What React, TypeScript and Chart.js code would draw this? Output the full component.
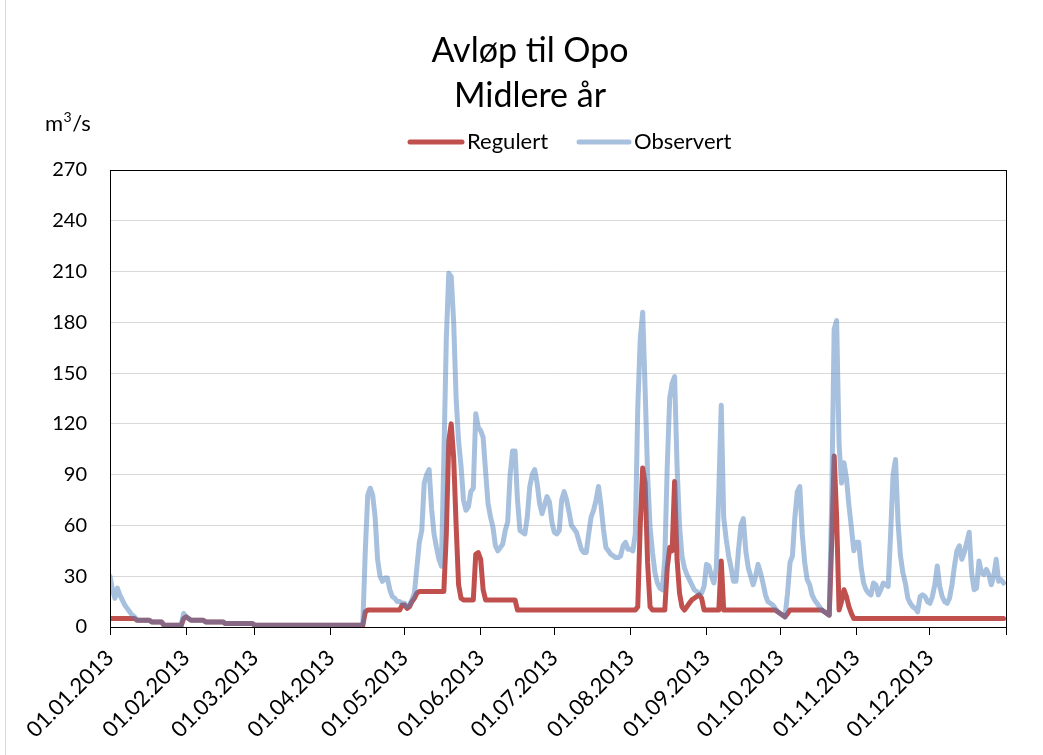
import React, { useEffect, useRef } from 'react';
import { Chart, registerables } from 'chart.js';

Chart.register(...registerables);

const FONT = 'Lato, "Open Sans", "DejaVu Sans", sans-serif';

const titleLines = ['Avløp til Opo', 'Midlere år'];
const seriesNames = ['Regulert', 'Observert'];
const unitText = ['m', '3', '/s'];

const yTickValues = [0, 30, 60, 90, 120, 150, 180, 210, 240, 270];
const monthStartDays = [0, 31, 59, 90, 120, 151, 181, 212, 243, 273, 304, 334, 365];
const monthLabels = [
  '01.01.2013', '01.02.2013', '01.03.2013', '01.04.2013', '01.05.2013', '01.06.2013',
  '01.07.2013', '01.08.2013', '01.09.2013', '01.10.2013', '01.11.2013', '01.12.2013', '',
];

// Regulert (daily values, m3/s)
const regJan = [5,5,5,5,5,5,5,5,5,5,5,4,4,4,4,4,4,3,3,3,3,3,1,1,1,1,1,1,1,1,5];
const regFeb = [6,5,4,4,4,4,4,4,3,3,3,3,3,3,3,3,2,2,2,2,2,2,2,2,2,2,2,2];
const regMar = [1,1,1,1,1,1,1,1,1,1,1,1,1,1,1,1,1,1,1,1,1,1,1,1,1,1,1,1,1,1,1];
const regApr = [1,1,1,1,1,1,1,1,1,1,1,1,1,1,9,10,10,10,10,10,10,10,10,10,10,10,10,10,10,13];
const regMay = [13,11,12,15,17,20,21,21,21,21,21,21,21,21,21,21,21,55,110,120,100,60,25,17,16,16,16,16,16,43,44];
const regJun = [40,22,16,16,16,16,16,16,16,16,16,16,16,16,16,10,10,10,10,10,10,10,10,10,10,10,10,10,10,10];
const regJul = [10,10,10,10,10,10,10,10,10,10,10,10,10,10,10,10,10,10,10,10,10,10,10,10,10,10,10,10,10,10,10];
const regAug = [10,10,10,12,60,94,85,38,12,10,10,10,10,10,10,35,47,45,86,40,20,12,10,12,14,16,17,18,19,17,10];
const regSep = [10,10,10,10,10,10,39,10,10,10,10,10,10,10,10,10,10,10,10,10,10,10,10,10,10,10,10,10,10,9];
const regOct = [8,7,6,8,10,10,10,10,10,10,10,10,10,10,10,10,10,10,9,8,7,50,101,65,10,15,22,18,12,8,5];
const regNov = [5,5,5,5,5,5,5,5,5,5,5,5,5,5,5,5,5,5,5,5,5,5,5,5,5,5,5,5,5,5];
const regDec = [5,5,5,5,5,5,5,5,5,5,5,5,5,5,5,5,5,5,5,5,5,5,5,5,5,5,5,5,5,5,5];

// Observert (daily values, m3/s)
const obsJan = [30,22,17,23,19,16,13,11,9,7,6,4,4,4,4,4,4,3,3,3,3,3,1,1,1,1,1,1,1,1,8];
const obsFeb = [6,5,4,4,4,4,4,4,3,3,3,3,3,3,3,3,2,2,2,2,2,2,2,2,2,2,2,2];
const obsMar = [1,1,1,1,1,1,1,1,1,1,1,1,1,1,1,1,1,1,1,1,1,1,1,1,1,1,1,1,1,1,1];
const obsApr = [1,1,1,1,1,1,1,1,1,1,1,1,1,2,45,78,82,78,65,40,30,27,29,29,22,18,17,15,15,14];
const obsMay = [14,12,13,16,20,35,50,57,85,90,93,70,55,47,40,36,100,170,209,207,180,135,110,95,75,69,71,80,82,126,118];
const obsJun = [116,112,92,73,65,59,48,45,47,49,57,62,90,104,104,75,57,56,55,65,83,90,93,85,73,67,72,77,74,62];
const obsJul = [56,55,57,75,80,75,68,60,58,56,51,46,44,44,55,65,69,75,83,72,58,47,45,43,42,41,41,42,48,50,46];
const obsAug = [46,45,55,130,170,186,140,90,59,44,32,26,23,22,40,95,135,144,148,95,60,42,35,31,28,25,22,21,20,20,24];
const obsSep = [37,36,30,26,35,80,131,65,52,42,35,27,27,45,60,64,45,35,30,25,30,37,32,26,19,15,14,13,11,9];
const obsOct = [8,7,6,20,38,42,65,80,83,55,38,28,25,19,16,14,12,10,9,8,7,75,176,181,108,85,97,88,72,59,45];
const obsNov = [50,50,35,26,22,20,19,26,25,19,22,26,25,24,55,90,99,62,42,32,26,17,14,12,11,9,18,19,18,15];
const obsDec = [14,18,25,36,24,18,15,14,17,25,36,45,48,40,44,50,56,32,22,23,39,32,31,34,31,25,30,40,27,28,26];

const regulert = [...regJan, ...regFeb, ...regMar, ...regApr, ...regMay, ...regJun, ...regJul, ...regAug, ...regSep, ...regOct, ...regNov, ...regDec];
const observert = [...obsJan, ...obsFeb, ...obsMar, ...obsApr, ...obsMay, ...obsJun, ...obsJul, ...obsAug, ...obsSep, ...obsOct, ...obsNov, ...obsDec];

const RED = '#C0504D';
const BLUE = 'rgba(79,129,189,0.5)';

const overlayPlugin = {
  id: 'overlayText',
  afterDraw(chart: any) {
    const ctx = chart.ctx as CanvasRenderingContext2D;
    const a = chart.chartArea;
    ctx.save();
    // plot area frame
    ctx.strokeStyle = '#000';
    ctx.lineWidth = 1;
    ctx.strokeRect(Math.round(a.left) + 0.5, Math.round(a.top) + 0.5, Math.round(a.right - a.left), Math.round(a.bottom - a.top));

    // y tick labels (positions from the library's y scale)
    const ys = chart.scales.y;
    ctx.fillStyle = '#000';
    ctx.font = `20px ${FONT}`;
    ctx.textAlign = 'right';
    ctx.textBaseline = 'middle';
    ys.ticks.forEach((t: any) => {
      ctx.fillText(String(t.value), a.left - 23, ys.getPixelForValue(t.value));
    });

    // title
    ctx.textAlign = 'center';
    ctx.textBaseline = 'alphabetic';
    ctx.font = `34px ${FONT}`;
    ctx.fillText(titleLines[0], 530, 62);
    ctx.fillText(titleLines[1], 530, 107);

    // legend
    ctx.lineCap = 'round';
    ctx.lineWidth = 5;
    ctx.strokeStyle = RED;
    ctx.beginPath();
    ctx.moveTo(410, 142);
    ctx.lineTo(462, 142);
    ctx.stroke();
    ctx.strokeStyle = BLUE;
    ctx.beginPath();
    ctx.moveTo(579, 142);
    ctx.lineTo(629, 142);
    ctx.stroke();
    ctx.textAlign = 'left';
    ctx.font = `22px ${FONT}`;
    ctx.fillStyle = '#000';
    ctx.fillText(seriesNames[0], 467, 149);
    ctx.fillText(seriesNames[1], 634, 149);

    // unit
    ctx.font = `22px ${FONT}`;
    let x = 45;
    ctx.fillText(unitText[0], x, 131);
    x += ctx.measureText(unitText[0]).width;
    ctx.font = `14px ${FONT}`;
    ctx.fillText(unitText[1], x + 0.5, 122);
    x += ctx.measureText(unitText[1]).width + 1;
    ctx.font = `22px ${FONT}`;
    ctx.fillText(unitText[2], x, 131);
    ctx.restore();
  },
};

export default function App() {
  const canvasRef = useRef<HTMLCanvasElement | null>(null);

  useEffect(() => {
    if (!canvasRef.current) return;
    Chart.defaults.font.family = FONT;
    const chart = new Chart(canvasRef.current, {
      type: 'line',
      data: {
        datasets: [
          {
            label: seriesNames[0],
            data: regulert.map((y, i) => ({ x: i, y })),
            borderColor: RED,
            backgroundColor: RED,
            borderWidth: 5,
            pointRadius: 0,
            tension: 0,
            borderJoinStyle: 'round',
            borderCapStyle: 'round',
            order: 1,
          },
          {
            label: seriesNames[1],
            data: observert.map((y, i) => ({ x: i, y })),
            borderColor: BLUE,
            backgroundColor: BLUE,
            borderWidth: 5,
            pointRadius: 0,
            tension: 0,
            borderJoinStyle: 'round',
            borderCapStyle: 'round',
            order: 0,
          },
        ],
      },
      options: {
        animation: false,
        responsive: false,
        maintainAspectRatio: false,
        layout: { padding: { top: 170, right: 37, left: 0, bottom: 0 } },
        plugins: {
          legend: { display: false },
          title: { display: false },
          tooltip: { enabled: false },
        },
        scales: {
          x: {
            type: 'linear',
            min: 0,
            max: 365,
            afterBuildTicks: (scale: any) => {
              scale.ticks = monthStartDays.map((v) => ({ value: v }));
            },
            afterFit: (scale: any) => {
              scale.height = 128;
            },
            ticks: {
              autoSkip: false,
              minRotation: 45,
              maxRotation: 45,
              padding: 10,
              color: '#000',
              font: { size: 22, family: FONT },
              callback: (_v: any, i: number) => monthLabels[i],
            },
            grid: {
              drawOnChartArea: false,
              drawTicks: true,
              tickLength: 8,
              tickColor: '#000',
              color: '#000',
            },
            border: { color: '#000', width: 1 },
          },
          y: {
            min: 0,
            max: 270,
            afterBuildTicks: (scale: any) => {
              scale.ticks = yTickValues.map((v) => ({ value: v }));
            },
            afterFit: (scale: any) => {
              scale.width = 110;
            },
            ticks: { display: false },
            grid: { color: '#D9D9D9', drawTicks: false, lineWidth: 1 },
            border: { color: '#000', width: 1 },
          },
        },
      },
      plugins: [overlayPlugin],
    });
    return () => chart.destroy();
  }, []);

  return (
    <div style={{ position: 'absolute', left: 0, top: 0, width: 1043, height: 755, background: '#fff' }}>
      <div style={{ position: 'absolute', left: 5, top: 0, width: 1, height: 755, background: '#D9D9D9' }} />
      <canvas ref={canvasRef} width={1043} height={755} style={{ position: 'absolute', left: 0, top: 0 }} />
    </div>
  );
}
